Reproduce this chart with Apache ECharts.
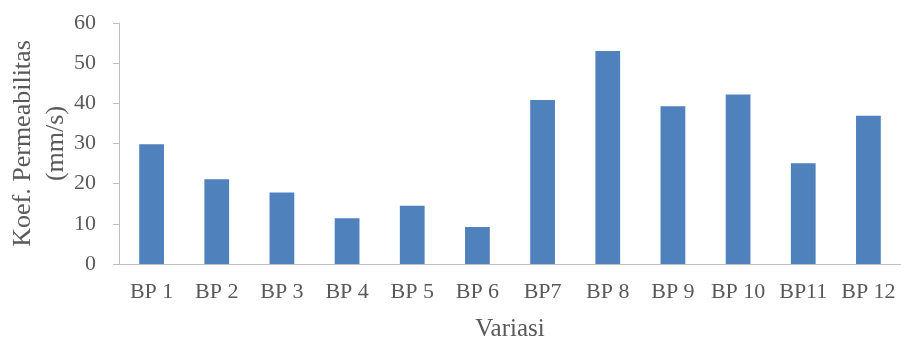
<!DOCTYPE html>
<html>
<head>
<meta charset="utf-8">
<script src="https://cdn.jsdelivr.net/npm/echarts@6/dist/echarts.min.js"></script>
<style>html,body{margin:0;padding:0;background:#fff}#c{width:901px;height:342px}</style>
</head>
<body>
<div id="c"></div>
<script>
const categories = ['BP 1','BP 2','BP 3','BP 4','BP 5','BP 6','BP7','BP 8','BP 9','BP 10','BP11','BP 12'];
const values = [29.8, 21.1, 17.8, 11.4, 14.5, 9.2, 40.8, 53.0, 39.3, 42.2, 25.1, 36.9];
const yTicks = [0, 10, 20, 30, 40, 50, 60];
const xTitle = 'Variasi';
const yTitle = 'Koef. Permeabilitas\n(mm/s)';

const font = 'Liberation Serif, Times New Roman, serif';
const textColor = '#595959';
const axisColor = '#BFBFBF';
const chart = echarts.init(document.getElementById('c'));
chart.setOption({
  animation: false,
  grid: { left: 119, right: 0, top: 23, bottom: 78, containLabel: false, outerBoundsMode: 'none' },
  xAxis: {
    type: 'category',
    data: categories,
    name: xTitle,
    nameLocation: 'middle',
    nameGap: 53,
    nameMoveOverlap: false,
    nameTextStyle: { fontFamily: font, fontSize: 25, color: textColor },
    axisLine: { lineStyle: { color: axisColor, width: 1 } },
    axisTick: { show: false },
    axisLabel: { fontFamily: font, fontSize: 22, color: textColor, margin: 17, interval: 0 }
  },
  yAxis: {
    type: 'value',
    min: yTicks[0],
    max: yTicks[yTicks.length - 1],
    interval: 10,
    name: yTitle,
    nameLocation: 'middle',
    nameRotate: 90,
    nameGap: 46,
    nameMoveOverlap: false,
    nameTextStyle: { fontFamily: font, fontSize: 26, color: textColor, lineHeight: 33 },
    splitLine: { show: false },
    axisLine: { show: true, lineStyle: { color: axisColor, width: 1 } },
    axisTick: { show: true, inside: false, length: 6, lineStyle: { color: axisColor } },
    axisLabel: { fontFamily: font, fontSize: 22, color: textColor, margin: 23 }
  },
  series: [{
    type: 'bar',
    data: values,
    barWidth: '38%',
    itemStyle: { color: '#4F81BD' }
  }]
});
</script>
</body>
</html>
